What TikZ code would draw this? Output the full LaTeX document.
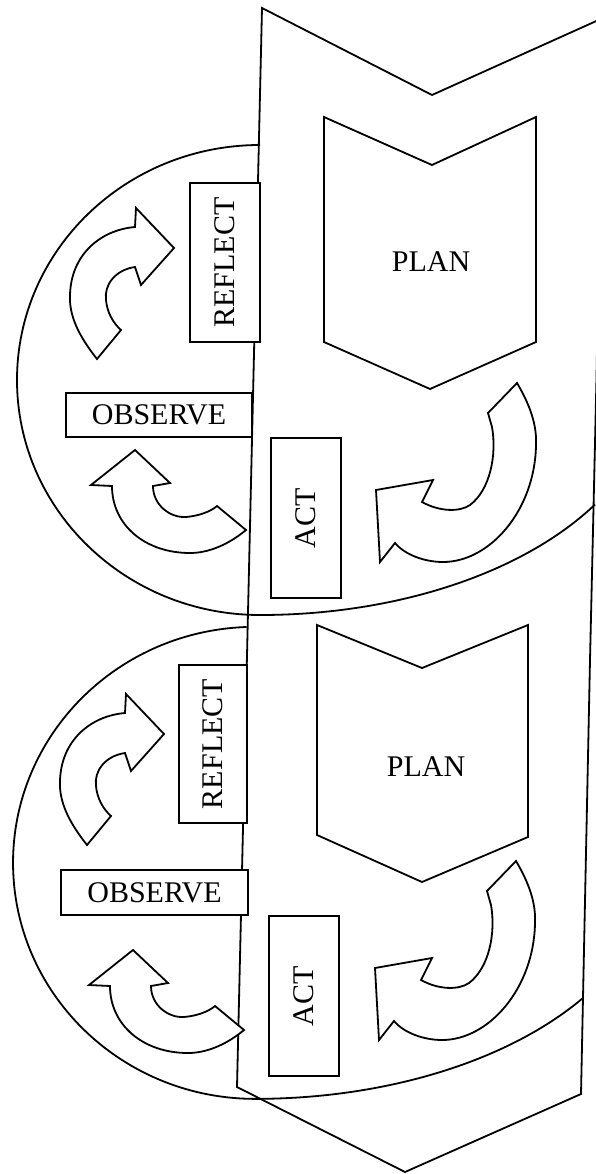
\documentclass[tikz,border=0pt]{standalone}
\usepackage{fontspec}
\setmainfont{Liberation Serif}
\usepackage{tikz}
\usetikzlibrary{positioning}
\tikzset{
  ln/.style={line width=1.8pt,line join=miter},
  box/.style={draw,line width=1.8pt,fill=white,inner sep=0pt,font=\fontsize{30}{32}\selectfont},
  blk/.style={draw,line width=1.8pt,fill=white,line join=miter},
  reflectarrow/.pic={
    \draw[blk] (97,359) .. controls (78,335) and (69,315) .. (70,295)
      .. controls (71,255) and (100,230) .. (135,227) -- (136,208) -- (174,248)
      -- (141,285) -- (135,267) .. controls (115,270) and (104,285) .. (106,300)
      .. controls (107,312) and (113,323) .. (121,330) -- cycle;
  },
  observearrow/.pic={
    \draw[blk] (135,450) -- (170,483) -- (153,486)
      .. controls (153,505) and (170,518) .. (186,517)
      .. controls (198,516) and (210,512) .. (217,506) -- (246,530)
      .. controls (228,545) and (208,553) .. (190,553)
      .. controls (145,553) and (112,525) .. (112,486) -- (91,485) -- cycle;
  },
  actarrow/.pic={
    \draw[blk] (517,383) .. controls (530,405) and (537,425) .. (536,445)
      .. controls (535,510) and (490,562) .. (443,562)
      .. controls (425,562) and (405,555) .. (395,543) -- (380,562) -- (376,490)
      -- (433,480) -- (422,502) .. controls (440,512) and (460,512) .. (470,505)
      .. controls (490,490) and (497,455) .. (492,427) -- (488,413) -- cycle;
  }
}

\begin{document}
\begin{tikzpicture}[x=1pt,y=-1pt]
\useasboundingbox (0,0) rectangle (596,1174);
% the two cycles
\draw[ln] (260,145) arc[start angle=270,end angle=90,x radius=243,y radius=235]
  arc[start angle=90,end angle=32,x radius=395,y radius=235];
\draw[ln] (246.6,627) arc[start angle=268,end angle=90,x radius=242,y radius=236]
  arc[start angle=90,end angle=35,x radius=400,y radius=236];
% big arrow
\draw[ln] (262,8) -- (432,95) -- (603,18) -- (596.5,378) -- (590,660) -- (581,1094)
  -- (405,1172) -- (237,1087) -- cycle;
% plan shapes
\draw[ln] (324,117) -- (432,165) -- (536,117) -- (536,342) -- (430,389) -- (324,342) -- cycle;
\draw[ln] (317,625) -- (422,668) -- (528,625) -- (528,837) -- (422,882) -- (317,835) -- cycle;
\node[font=\fontsize{30}{32}\selectfont] (plan1) at (431,262) {PLAN};
\node[font=\fontsize{30}{32}\selectfont] (plan2) at (426,767) {PLAN};
% arrows
\pic at (0,0) {reflectarrow};
\pic at (0,0) {observearrow};
\pic at (0,0) {actarrow};
\pic at (-10,486) {reflectarrow};
\pic at (-2,500) {observearrow};
\pic at (-1,478) {actarrow};
% boxes
\node[box,rotate=90,minimum width=159pt,minimum height=70pt] (reflect1) at (225,262.5) {REFLECT};
\node[box,minimum width=186pt,minimum height=44pt] (observe1) at (159,415) {OBSERVE};
\node[box,rotate=90,minimum width=160pt,minimum height=70pt] (act1) at (306,518) {ACT};
\node[box,rotate=90,minimum width=158pt,minimum height=68pt] (reflect2) at (213,744) {REFLECT};
\node[box,minimum width=187pt,minimum height=45pt] (observe2) at (154.5,892.5) {OBSERVE};
\node[box,rotate=90,minimum width=160pt,minimum height=70pt] (act2) at (304,996) {ACT};
\end{tikzpicture}
\end{document}
